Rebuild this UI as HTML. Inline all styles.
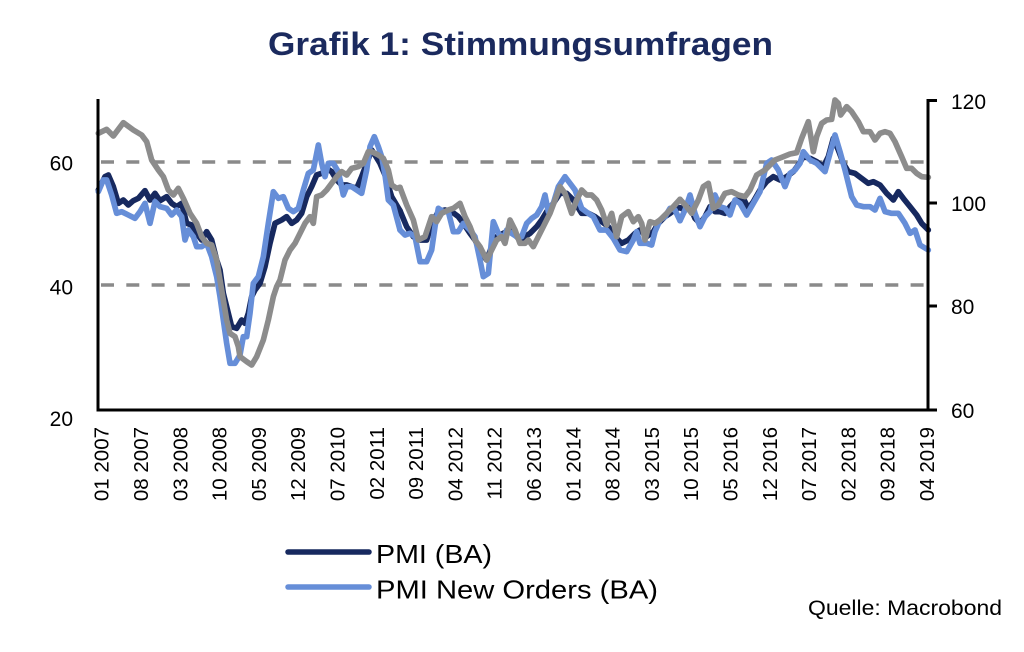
<!DOCTYPE html>
<html>
<head>
<meta charset="utf-8">
<style>
  html, body { margin: 0; padding: 0; background: #ffffff; }
  svg { display: block; }
  text { font-family: "Liberation Sans", sans-serif; }
  .s { fill: none; stroke-width: 17px; stroke-linejoin: round; stroke-linecap: round; }
</style>
</head>
<body>
<svg width="1024" height="652" viewBox="0 0 1024 652" xmlns="http://www.w3.org/2000/svg">
  <rect x="0" y="0" width="1024" height="652" fill="#ffffff"/>

  <!-- Title -->
  <text x="268" y="55" font-size="32" font-weight="bold" fill="#1b2a5e" textLength="505" lengthAdjust="spacingAndGlyphs">Grafik 1: Stimmungsumfragen</text>

  <!-- Dashed reference lines -->
  <line x1="101" y1="162" x2="928" y2="162" stroke="#8a8a8a" stroke-width="3.5" stroke-dasharray="13 12.3"/>
  <line x1="101" y1="285" x2="928" y2="285" stroke="#8a8a8a" stroke-width="3.5" stroke-dasharray="13 12.3"/>

  <!-- Series: dark navy PMI -->
  <g stroke="#17295f">
    <polyline class="s" stroke="#17295f" transform="translate(80 80) scale(0.333333)" points="55,330 75,290 85,285 100,320 115,370 130,360 145,375 160,362 175,355 195,332 210,360 225,340 240,362 260,350 275,370 290,380 305,370 320,430 335,435 350,460 365,480 380,455 395,480 410,540 420,570 430,640 445,700 455,740 470,745 485,720 495,730 505,700 515,650 525,630 540,610 555,560 570,490 585,430 605,420 620,410 635,430 650,420 665,400 680,350 695,320 710,285 725,280 740,265 755,275 770,300 785,315 800,315 815,320 830,325 845,290 860,250 875,210 885,225 900,250 915,285 935,350 960,392"/>
    <polyline class="s" stroke="#17295f" transform="translate(400 80) scale(0.333333)" points="0,392 20,440 40,470 60,480 80,480 95,430 115,395 135,390 155,395 175,410 190,430 210,460 225,480 245,520 260,540 275,500 290,470 310,460 330,450 345,465 360,480 375,470 390,460 410,440 425,420 440,395 460,370 480,340 500,340 520,360 545,400 565,400 585,410 605,425 625,440 645,470 665,490 685,480 705,460 720,450 740,470 760,455 775,430 795,410 810,400 830,385 840,383"/>
    <polyline class="s" stroke="#17295f" transform="translate(680 80) scale(0.333333)" points="0,383 15,390 30,380 45,415 60,430 75,410 90,380 105,395 120,395 135,400 150,380 170,360 190,355 205,385 220,365 240,330 260,305 280,290 300,300 320,290 340,275 355,255 370,230 390,235 410,245 430,260 445,230 460,175 475,210 490,250 505,275 525,280 545,295 565,310 580,305 600,315 620,340 640,360 655,335 670,355 690,380 710,405 725,430 745,450"/>
  </g>

  <!-- Series: light blue PMI New Orders -->
  <g stroke="#668ed8">
    <polyline class="s" stroke="#668ed8" transform="translate(80 80) scale(0.333333)" points="55,335 70,300 80,300 95,345 110,400 125,395 145,405 165,415 180,395 195,370 210,430 225,365 240,380 260,385 275,405 290,390 305,410 315,480 325,450 340,470 350,500 365,500 380,490 395,530 410,590 420,650 430,720 440,790 450,850 465,850 480,825 490,770 500,770 510,700 520,610 535,590 550,530 565,430 580,335 595,355 610,350 625,385 640,395 655,385 670,330 685,280 700,270 715,195 725,250 735,290 745,250 760,250 775,275 790,345 800,320 815,320 830,330 845,340 860,270 870,200 883,170 895,200 905,230 915,285 925,360 940,375 960,450"/>
    <polyline class="s" stroke="#668ed8" transform="translate(400 80) scale(0.333333)" points="0,450 15,465 30,460 45,470 60,545 80,545 95,510 105,440 115,385 130,395 145,395 160,455 175,455 190,430 210,450 225,470 240,540 250,590 265,580 280,425 295,460 310,475 320,450 335,460 350,470 365,470 380,430 395,415 410,405 425,380 435,345 445,395 460,370 475,320 495,290 510,310 525,330 545,385 565,400 580,410 600,450 620,450 640,475 660,510 680,515 700,480 710,455 720,490 740,490 755,495 765,455 780,420 795,410 810,385 825,390 840,422"/>
    <polyline class="s" stroke="#668ed8" transform="translate(680 80) scale(0.333333)" points="0,422 15,390 30,345 45,400 60,440 75,410 90,395 105,345 120,380 135,385 150,405 165,360 180,370 200,405 220,370 240,335 260,250 275,240 295,270 315,320 330,280 345,270 360,250 370,215 390,240 410,250 435,275 450,220 465,165 480,215 495,270 515,350 530,375 550,380 570,380 585,390 600,355 615,395 635,400 655,400 675,430 690,460 705,450 720,495 745,510"/>
  </g>

  <!-- Series: gray (right axis) -->
  <g stroke="#8c8c8c">
    <polyline class="s" stroke="#8c8c8c" transform="translate(80 80) scale(0.333333)" points="55,160 80,148 100,168 130,128 160,150 185,165 200,185 215,240 235,270 250,290 265,330 280,345 295,325 310,355 330,400 350,430 365,470 380,490 395,495 410,540 420,600 430,660 440,720 450,760 465,770 475,800 480,830 500,845 515,855 530,830 550,780 565,720 580,650 590,620 600,600 615,540 630,510 645,490 660,460 675,430 690,410 700,430 710,350 725,345 740,330 755,310 770,290 785,275 800,285 815,265 835,260 850,250 865,215 875,215 895,225 910,235 925,270 935,315 950,325 960,322"/>
    <polyline class="s" stroke="#8c8c8c" transform="translate(400 80) scale(0.333333)" points="0,322 20,375 40,420 55,480 75,470 95,410 110,425 125,400 145,390 160,385 180,370 195,410 210,440 225,480 240,500 260,540 275,510 290,480 305,470 315,490 330,420 345,450 360,490 375,490 385,480 400,500 415,470 430,440 450,400 465,360 480,320 495,340 515,400 530,360 545,330 560,345 575,345 590,360 605,390 620,435 635,400 650,470 665,410 685,395 700,425 715,410 725,430 735,480 750,425 765,430 780,420 800,400 820,380 840,358"/>
    <polyline class="s" stroke="#8c8c8c" transform="translate(680 80) scale(0.333333)" points="0,358 20,380 35,400 55,360 70,320 85,310 100,385 115,375 135,340 155,335 175,345 195,350 210,330 230,285 255,270 270,255 285,240 305,232 330,222 350,218 365,175 385,125 395,185 400,215 410,170 425,130 440,120 455,118 465,60 475,70 482,105 500,80 515,95 535,125 550,155 570,155 585,180 600,160 615,155 630,160 645,185 665,230 680,265 695,265 710,280 725,290 745,292"/>
  </g>

  <!-- Axes -->
  <g stroke="#000000" stroke-width="3" fill="none">
    <line x1="98" y1="99" x2="98" y2="411.5"/>
    <line x1="96.5" y1="410" x2="937" y2="410"/>
    <line x1="928" y1="99.5" x2="928" y2="410"/>
    <line x1="926.5" y1="100.5" x2="937" y2="100.5"/>
    <line x1="928" y1="203" x2="937" y2="203"/>
    <line x1="928" y1="306" x2="937" y2="306"/>
  </g>

  <!-- Left axis labels -->
  <g font-size="21" fill="#000000" text-anchor="end">
    <text x="73" y="170.5">60</text>
    <text x="73" y="294.5">40</text>
    <text x="73" y="426">20</text>
  </g>

  <!-- Right axis labels -->
  <g font-size="21" fill="#000000" text-anchor="start">
    <text x="951" y="109">120</text>
    <text x="951" y="211">100</text>
    <text x="951" y="314">80</text>
    <text x="951" y="418">60</text>
  </g>

  <!-- X axis labels (rotated) -->
  <g font-size="20.5" fill="#000000" text-anchor="end">
    <text transform="translate(108.7 427) rotate(-90)">01 2007</text>
    <text transform="translate(148.0 427) rotate(-90)">08 2007</text>
    <text transform="translate(187.3 427) rotate(-90)">03 2008</text>
    <text transform="translate(226.6 427) rotate(-90)">10 2008</text>
    <text transform="translate(265.9 427) rotate(-90)">05 2009</text>
    <text transform="translate(305.2 427) rotate(-90)">12 2009</text>
    <text transform="translate(344.5 427) rotate(-90)">07 2010</text>
    <text transform="translate(383.8 427) rotate(-90)">02 2011</text>
    <text transform="translate(423.1 427) rotate(-90)">09 2011</text>
    <text transform="translate(462.4 427) rotate(-90)">04 2012</text>
    <text transform="translate(501.7 427) rotate(-90)">11 2012</text>
    <text transform="translate(541.0 427) rotate(-90)">06 2013</text>
    <text transform="translate(580.3 427) rotate(-90)">01 2014</text>
    <text transform="translate(619.6 427) rotate(-90)">08 2014</text>
    <text transform="translate(658.9 427) rotate(-90)">03 2015</text>
    <text transform="translate(698.2 427) rotate(-90)">10 2015</text>
    <text transform="translate(737.5 427) rotate(-90)">05 2016</text>
    <text transform="translate(776.8 427) rotate(-90)">12 2016</text>
    <text transform="translate(816.1 427) rotate(-90)">07 2017</text>
    <text transform="translate(855.4 427) rotate(-90)">02 2018</text>
    <text transform="translate(894.7 427) rotate(-90)">09 2018</text>
    <text transform="translate(934.0 427) rotate(-90)">04 2019</text>
  </g>

  <!-- Legend -->
  <line x1="288" y1="552" x2="369" y2="552" stroke="#17295f" stroke-width="5.5" stroke-linecap="round"/>
  <text x="376" y="563" font-size="26" fill="#000000" textLength="116" lengthAdjust="spacingAndGlyphs">PMI (BA)</text>
  <line x1="288" y1="587" x2="369" y2="587" stroke="#668ed8" stroke-width="5.5" stroke-linecap="round"/>
  <text x="376" y="598.5" font-size="26" fill="#000000" textLength="282" lengthAdjust="spacingAndGlyphs">PMI New Orders (BA)</text>

  <!-- Source -->
  <text x="808" y="615" font-size="21" fill="#000000" textLength="194" lengthAdjust="spacingAndGlyphs">Quelle: Macrobond</text>
</svg>
</body>
</html>
